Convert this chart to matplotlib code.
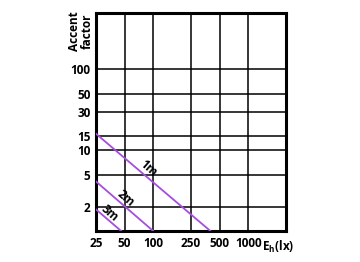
import matplotlib.pyplot as plt
import numpy as np

plt.rcParams['font.family'] = ['Open Sans', 'DejaVu Sans']

x_ticks = [25, 50, 100, 250, 500, 1000]
y_ticks = [2, 5, 10, 15, 30, 50, 100]
distances = ['1m', '2m', '3m']
# accent factor at E = 25 lx and the lux where it falls to 1
start_factor = [16, 4.1, 1.85]
end_lux = [400, 100, 46]
# where each distance label sits
label_x = [89, 51, 35]
label_y = [6.0, 2.55, 1.67]

fig = plt.figure(figsize=(3.6, 2.62), dpi=100)
ax = fig.add_axes([0.2667, 0.1183, 0.5278, 0.8321])
ax.set_xscale('log')
ax.set_yscale('log')
ax.set_xlim(25, 2500)
ax.set_ylim(1, 500)

purple = '#a64de0'
for name, y0, x1, lx, ly in zip(distances, start_factor, end_lux, label_x, label_y):
    ax.plot([25, x1], [y0, 1], color=purple, lw=1.3, zorder=3)
    ax.text(lx, ly, name, rotation=-41, fontsize=8.5, fontweight='bold',
            ha='center', va='center', zorder=4)

for xv in x_ticks[1:]:
    ax.axvline(xv, color='black', lw=1.1, zorder=2)
for yv in y_ticks:
    ax.axhline(yv, color='black', lw=1.1, zorder=2)

ax.set_xticks(x_ticks)
ax.set_xticklabels([str(v) for v in x_ticks])
ax.set_yticks(y_ticks)
ax.set_yticklabels([str(v) for v in y_ticks])
ax.minorticks_off()
ax.tick_params(length=0, labelsize=8.5, pad=4)
for lab in ax.get_xticklabels() + ax.get_yticklabels():
    lab.set_fontweight('bold')

for sp in ax.spines.values():
    sp.set_linewidth(2.2)

ax.annotate(r'E$_\mathregular{h}$(lx)', xy=(1400, 0), xycoords=('data', 'axes fraction'),
            xytext=(0, -14), textcoords='offset points', fontsize=8.5,
            fontweight='bold', ha='left', va='baseline')
fig.text(0.225, 0.88, 'Accent\nfactor', rotation=90, fontsize=8.5,
         fontweight='bold', ha='center', va='center', linespacing=0.9)

fig.savefig('out.png', dpi=100)
